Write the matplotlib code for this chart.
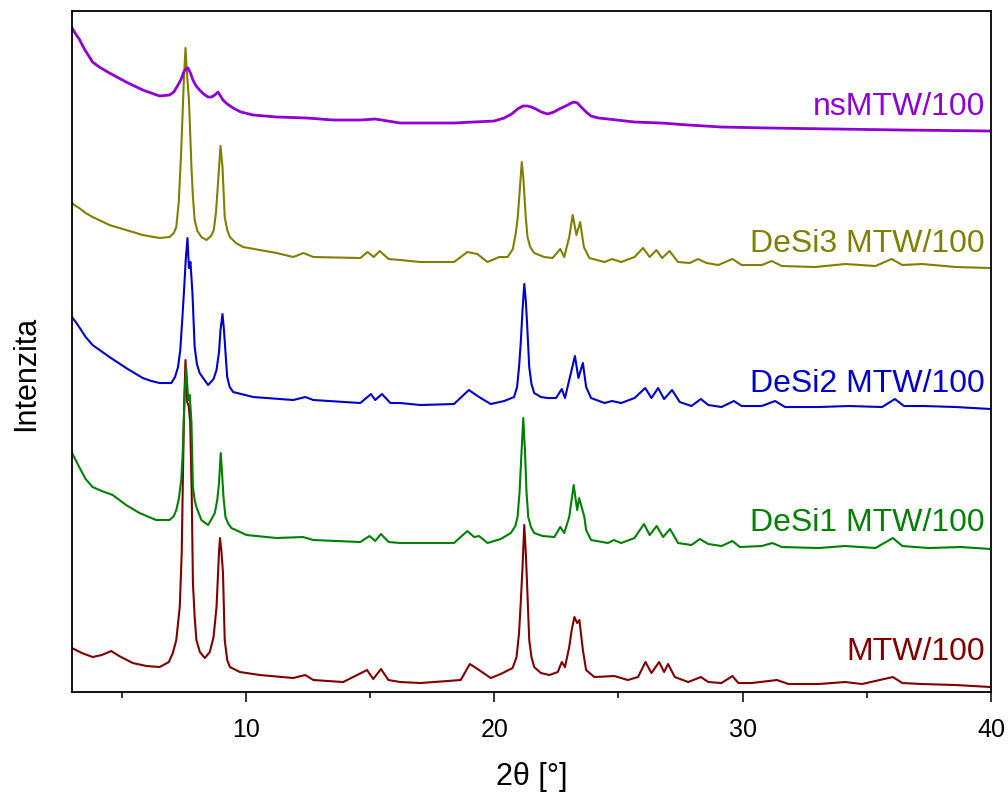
import matplotlib
matplotlib.use("Agg")
import matplotlib.pyplot as plt
from matplotlib.ticker import MultipleLocator

plt.rcParams["font.family"] = ["Liberation Sans", "DejaVu Sans"]

# XRD patterns, stacked (intensity in a.u., offsets already included)
tt_mtw = [3.00, 3.40, 3.83, 4.20, 4.58, 4.90, 5.45, 6.00, 6.53, 6.90, 7.06, 7.20, 7.34, 7.42,
          7.47, 7.52, 7.57, 7.64, 7.70, 7.76, 7.82, 7.87, 7.94, 8.01, 8.15, 8.35, 8.55, 8.70,
          8.82, 8.92, 8.96, 9.02, 9.08, 9.15, 9.25, 9.36, 9.76, 10.57, 11.91, 12.39, 12.72,
          13.92, 14.88, 15.13, 15.44, 15.74, 16.22, 17.03, 18.65, 19.02, 19.39, 19.86, 20.26,
          20.74, 20.90, 21.00, 21.07, 21.14, 21.21, 21.27, 21.32, 21.41, 21.50, 21.61, 21.88,
          22.22, 22.56, 22.72, 22.85, 23.02, 23.12, 23.23, 23.34, 23.43, 23.57, 23.70, 24.03,
          24.84, 25.38, 25.79, 26.09, 26.33, 26.64, 26.84, 27.00, 27.27, 27.81, 28.32, 28.62,
          29.15, 29.59, 29.83, 30.37, 31.38, 31.85, 33.06, 34.13, 34.81, 36.05, 36.43, 37.23,
          38.57, 40.00]
i_mtw = [44, 39, 35, 37, 41, 36, 29, 26, 25, 30, 39, 52, 85, 140,
         220, 290, 332, 290, 286, 270, 200, 109, 75, 52, 40, 34, 40, 55,
         85, 140, 154, 140, 119, 52, 32, 25, 20, 17, 14, 17, 12,
         10, 22, 13, 23, 12, 10, 9, 12, 28, 22, 14, 18,
         24, 35, 59, 90, 125, 167, 140, 110, 52, 35, 25, 19,
         17, 20, 30, 25, 45, 62, 75, 69, 72, 42, 22, 15,
         16, 12, 15, 30, 19, 30, 20, 28, 15, 10, 15, 10,
         9, 16, 9, 9, 12, 8, 8, 10, 8, 15, 9, 8,
         7, 5]

tt_desi1 = [3.00, 3.15, 3.29, 3.55, 3.83, 4.20, 4.64, 5.18, 5.72, 6.10, 6.39, 6.93, 7.10, 7.20,
            7.30, 7.40, 7.46, 7.50, 7.55, 7.60, 7.68, 7.74, 7.81, 7.87, 7.94, 8.01, 8.21, 8.48,
            8.60, 8.75, 8.85, 8.92, 8.99, 9.04, 9.10, 9.18, 9.30, 9.42, 10.03, 11.24, 12.30,
            12.72, 14.61, 14.98, 15.21, 15.44, 15.75, 16.22, 17.03, 18.38, 18.92, 19.19, 19.39,
            19.73, 20.26, 20.67, 20.85, 20.94, 21.02, 21.08, 21.17, 21.24, 21.30, 21.37, 21.48,
            21.61, 21.95, 22.42, 22.66, 22.82, 23.02, 23.20, 23.34, 23.42, 23.63, 23.70, 23.90,
            24.58, 24.82, 25.11, 25.65, 26.03, 26.26, 26.54, 26.80, 27.08, 27.40, 27.94, 28.28,
            28.62, 29.15, 29.59, 29.89, 30.77, 31.20, 31.58, 33.06, 34.13, 35.35, 36.05, 36.43,
            37.50, 38.78, 40.00]
i_desi1 = [239, 232, 225, 213, 205, 201, 197, 187, 179, 175, 172, 172, 176, 182,
           193, 212, 240, 272, 305, 324, 292, 297, 270, 205, 192, 185, 172, 167,
           172, 179, 192, 209, 239, 220, 195, 175, 168, 164, 157, 154, 155,
           152, 150, 156, 151, 158, 150, 149, 149, 149, 161, 155, 156,
           149, 153, 159, 166, 175, 200, 230, 274, 240, 200, 175, 165,
           159, 156, 155, 165, 159, 175, 207, 182, 194, 175, 162, 152,
           149, 152, 149, 154, 168, 157, 166, 155, 163, 149, 147, 153,
           148, 146, 151, 145, 146, 149, 145, 144, 146, 144, 154, 146,
           144, 145, 143]

tt_desi2 = [3.00, 3.15, 3.29, 3.55, 3.83, 4.51, 5.18, 5.85, 6.20, 6.53, 7.00, 7.15, 7.27, 7.36,
            7.44, 7.52, 7.58, 7.65, 7.71, 7.77, 7.85, 7.94, 8.03, 8.14, 8.48, 8.70, 8.82, 8.92,
            8.98, 9.06, 9.12, 9.18, 9.25, 9.35, 9.49, 10.30, 11.91, 12.39, 12.72, 14.61, 15.04,
            15.21, 15.48, 15.82, 16.22, 17.03, 18.38, 18.98, 19.39, 19.86, 20.40, 20.80, 20.92,
            21.00, 21.07, 21.14, 21.21, 21.27, 21.32, 21.41, 21.50, 21.61, 21.88, 22.15, 22.49,
            22.72, 22.85, 23.02, 23.25, 23.39, 23.57, 23.70, 23.90, 24.44, 24.74, 25.11, 25.65,
            26.08, 26.33, 26.60, 26.84, 27.16, 27.47, 27.94, 28.32, 28.62, 29.15, 29.65, 29.96,
            30.77, 31.31, 31.71, 33.06, 34.27, 35.62, 36.13, 36.50, 37.30, 38.58, 40.00]
i_desi2 = [375, 370, 365, 355, 347, 335, 324, 314, 311, 309, 309, 315, 325, 342,
           372, 405, 432, 454, 424, 430, 399, 345, 328, 319, 307, 313, 322, 340,
           362, 378, 362, 340, 315, 305, 300, 295, 292, 295, 292, 289, 298,
           292, 298, 289, 289, 287, 288, 302, 295, 288, 291, 295, 305,
           325, 350, 382, 408, 392, 370, 325, 308, 299, 295, 294, 294,
           303, 294, 312, 336, 314, 329, 305, 294, 289, 291, 289, 294,
           304, 294, 304, 293, 302, 290, 286, 293, 287, 285, 291, 286,
           286, 291, 285, 285, 286, 285, 293, 286, 286, 285, 283]

tt_desi3 = [3.00, 3.15, 3.29, 3.55, 3.83, 4.51, 5.18, 5.85, 6.53, 6.93, 7.10, 7.20, 7.30, 7.40,
            7.50, 7.57, 7.63, 7.71, 7.81, 7.87, 7.94, 8.05, 8.21, 8.41, 8.60, 8.71, 8.80, 8.88,
            8.98, 9.06, 9.15, 9.25, 9.36, 9.60, 9.89, 11.24, 11.91, 12.32, 12.72, 14.61, 14.90,
            15.15, 15.39, 15.75, 16.22, 17.03, 18.38, 18.92, 19.32, 19.73, 20.20, 20.54, 20.75,
            20.87, 20.95, 21.02, 21.11, 21.17, 21.21, 21.27, 21.34, 21.45, 21.61, 22.01, 22.35,
            22.66, 22.82, 23.02, 23.16, 23.31, 23.46, 23.61, 23.83, 24.44, 24.74, 25.11, 25.65,
            25.99, 26.26, 26.53, 26.76, 27.06, 27.40, 27.87, 28.21, 28.55, 29.02, 29.59, 29.96,
            30.77, 31.17, 31.58, 32.92, 34.13, 35.35, 36.00, 36.43, 37.23, 38.58, 40.00]
i_desi3 = [489, 486, 484, 479, 475, 467, 462, 457, 454, 455, 459, 465, 490, 542,
           609, 644, 619, 592, 525, 495, 472, 461, 455, 452, 456, 462, 480, 509,
           546, 525, 475, 462, 455, 449, 445, 439, 435, 439, 435, 434, 440,
           435, 441, 433, 432, 430, 430, 440, 438, 430, 435, 435, 443,
           459, 475, 499, 530, 515, 499, 475, 455, 445, 439, 435, 434,
           443, 435, 455, 477, 457, 470, 445, 434, 430, 433, 430, 435,
           444, 435, 442, 434, 441, 430, 429, 433, 429, 427, 433, 427,
           427, 431, 426, 425, 428, 426, 433, 427, 428, 425, 424]

tt_ns = [3.00, 3.15, 3.29, 3.50, 3.83, 4.10, 4.51, 5.18, 5.85, 6.53, 6.93, 7.10, 7.27, 7.40,
         7.50, 7.58, 7.67, 7.77, 7.87, 8.00, 8.14, 8.30, 8.48, 8.62, 8.75, 8.88, 8.98, 9.08,
         9.25, 9.49, 9.80, 10.30, 11.24, 12.45, 13.53, 14.61, 15.21, 16.22, 17.03, 18.38,
         20.00, 20.40, 20.70, 20.94, 21.15, 21.34, 21.50, 21.68, 21.90, 22.15, 22.40, 22.62,
         22.96, 23.10, 23.23, 23.35, 23.50, 23.70, 23.90, 24.20, 24.58, 25.65, 26.73, 27.81,
         29.15, 31.04, 33.73, 36.43, 40.00]
i_ns = [664, 658, 653, 643, 630, 625, 619, 610, 602, 596, 597, 600, 607, 613,
        620, 623, 624, 619, 612, 606, 602, 598, 595, 595, 597, 600, 596, 592,
        588, 584, 580, 577, 575, 574, 572, 572, 573, 569, 569, 569,
        571, 574, 578, 583, 586, 586, 585, 583, 580, 578, 580, 583,
        587, 589, 590, 589, 585, 580, 576, 574, 573, 570, 569, 567,
        565, 564, 563, 562, 561]

labels = ["MTW/100", "DeSi1 MTW/100", "DeSi2 MTW/100", "DeSi3 MTW/100", "nsMTW/100"]
label_y = [32, 161, 300, 440, 577]
colors = ["#800000", "#008000", "#0000CC", "#808000", "#9000D0"]
series = [(tt_mtw, i_mtw), (tt_desi1, i_desi1), (tt_desi2, i_desi2),
          (tt_desi3, i_desi3), (tt_ns, i_ns)]

fig = plt.figure(figsize=(10.08, 7.98), dpi=100)
ax = fig.add_axes([0.0714, 0.1328, 0.9117, 0.8534])

for (tt, inten), lab, ly, c in zip(series, labels, label_y, colors):
    lw = 2.0 if lab == "nsMTW/100" else 1.5
    ax.plot(tt, inten, color=c, lw=lw)
    ax.text(39.75, ly, lab, color=c, fontsize=23, ha="right", va="baseline")

ax.set_xlim(3, 40)
ax.set_ylim(0, 681)
ax.xaxis.set_major_locator(MultipleLocator(10))
ax.xaxis.set_minor_locator(MultipleLocator(5))
ax.set_yticks([])
ax.tick_params(axis="x", which="major", direction="out", length=7, width=1.1,
               labelsize=18, pad=12, top=False)
ax.tick_params(axis="x", which="minor", direction="out", length=4, width=1.1, top=False)
for sp in ax.spines.values():
    sp.set_linewidth(1.3)

ax.set_xlabel("2θ [°]", fontsize=22, labelpad=14)
ax.set_ylabel("Intenzita", fontsize=22)
ax.yaxis.set_label_coords(-0.034, 0.468)

fig.savefig("out.png", dpi=100)
